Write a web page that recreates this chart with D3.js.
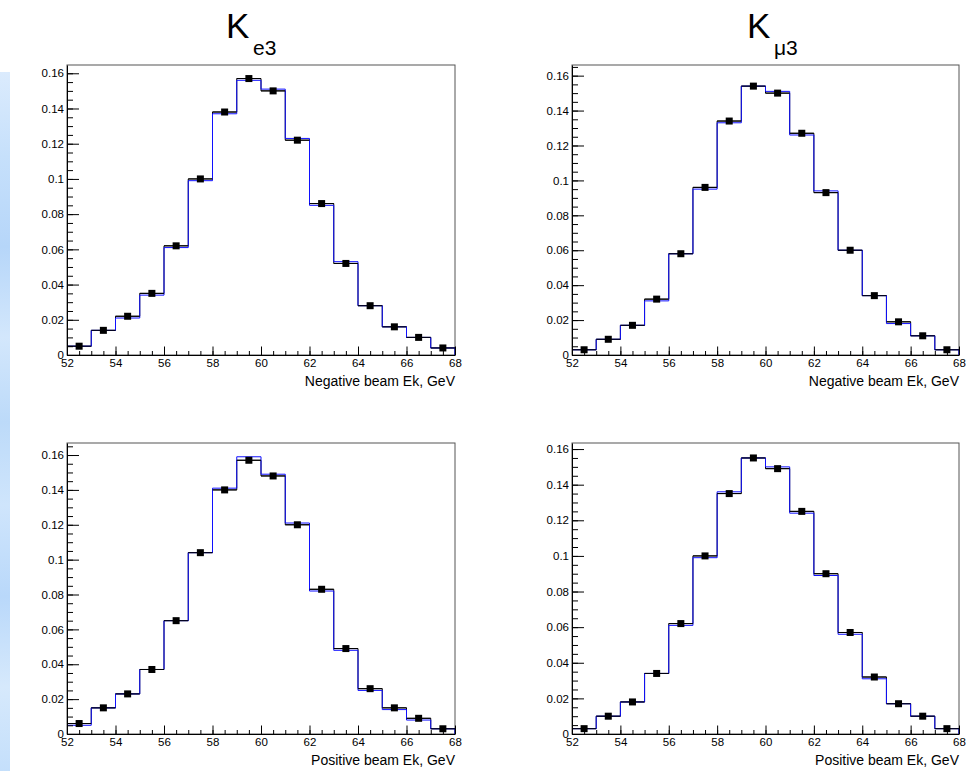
<!DOCTYPE html>
<html>
<head>
<meta charset="utf-8">
<script src="https://cdn.jsdelivr.net/npm/d3@7"></script>
<style>
  html, body { margin: 0; padding: 0; background: #fff; }
  svg { display: block; font-family: "Liberation Sans", Arial, Helvetica, sans-serif; }
</style>
</head>
<body>
<svg id="chart" width="970" height="771"></svg>
<script>
// Kaon beam energy spectra, 1 GeV bins from 52 to 68 GeV (normalised to unit area)
const binEdges = d3.range(52, 69, 1);
const binCenters = d3.range(52.5, 68, 1);

// Ke3, negative beam
const keNegData = [0.005, 0.014, 0.022, 0.035, 0.062, 0.100, 0.138, 0.157, 0.150, 0.122, 0.086, 0.052, 0.028, 0.016, 0.010, 0.004];
const keNegMC   = [0.005, 0.014, 0.021, 0.034, 0.061, 0.099, 0.137, 0.156, 0.151, 0.123, 0.085, 0.053, 0.028, 0.016, 0.010, 0.004];
// Kmu3, negative beam
const muNegData = [0.003, 0.009, 0.017, 0.032, 0.058, 0.096, 0.134, 0.154, 0.150, 0.127, 0.093, 0.060, 0.034, 0.019, 0.011, 0.003];
const muNegMC   = [0.003, 0.009, 0.017, 0.031, 0.058, 0.095, 0.133, 0.154, 0.151, 0.126, 0.094, 0.060, 0.034, 0.018, 0.011, 0.003];
// Ke3, positive beam
const kePosData = [0.006, 0.015, 0.023, 0.037, 0.065, 0.104, 0.140, 0.157, 0.148, 0.120, 0.083, 0.049, 0.026, 0.015, 0.009, 0.003];
const kePosMC   = [0.005, 0.015, 0.023, 0.037, 0.065, 0.104, 0.141, 0.159, 0.149, 0.121, 0.082, 0.048, 0.025, 0.014, 0.008, 0.003];
// Kmu3, positive beam
const muPosData = [0.003, 0.010, 0.018, 0.034, 0.062, 0.100, 0.135, 0.155, 0.149, 0.125, 0.090, 0.057, 0.032, 0.017, 0.010, 0.003];
const muPosMC   = [0.003, 0.010, 0.018, 0.034, 0.061, 0.099, 0.136, 0.155, 0.150, 0.124, 0.089, 0.056, 0.031, 0.017, 0.010, 0.003];

// Axis ticks
const xMajorTicks = [52, 54, 56, 58, 60, 62, 64, 66, 68];
const yMajorTicks = [0, 0.02, 0.04, 0.06, 0.08, 0.1, 0.12, 0.14, 0.16];
const xAxisTitles = ["Negative beam Ek, GeV", "Positive beam Ek, GeV"];

// Pad layout
const pads = [
  { data: keNegData, mc: keNegMC, left: 67,  top: 65,  width: 388, height: 290, yMax: 0.1647, title: xAxisTitles[0] },
  { data: muNegData, mc: muNegMC, left: 572, top: 65,  width: 387, height: 290, yMax: 0.1661, title: xAxisTitles[0] },
  { data: kePosData, mc: kePosMC, left: 67,  top: 443, width: 388, height: 291, yMax: 0.1669, title: xAxisTitles[1] },
  { data: muPosData, mc: muPosMC, left: 572, top: 443, width: 387, height: 291, yMax: 0.1634, title: xAxisTitles[1] }
];

const svg = d3.select("#chart");

// Canvas-side decoration strip
const defs = svg.append("defs");
const grad = defs.append("linearGradient").attr("id", "strip").attr("x1", 0).attr("y1", 0).attr("x2", 0).attr("y2", 1);
[["0%", "#dbebfd"], ["12%", "#c6e0fb"], ["25%", "#b6d6f9"], ["38%", "#d3e7fc"], ["50%", "#bcdaf9"],
 ["62%", "#cfe5fc"], ["75%", "#b9d8fa"], ["88%", "#d6e9fc"], ["100%", "#c4dffb"]]
  .forEach(([o, c]) => grad.append("stop").attr("offset", o).attr("stop-color", c));
svg.append("rect").attr("x", 0).attr("y", 72).attr("width", 10).attr("height", 699).attr("fill", "url(#strip)");

const fmt = d => d === 0 ? "0" : String(+d.toFixed(2));

pads.forEach(p => {
  const x = d3.scaleLinear().domain([52, 68]).range([p.left, p.left + p.width]);
  const y = d3.scaleLinear().domain([0, p.yMax]).range([p.top + p.height, p.top]);
  const g = svg.append("g");

  // frame
  g.append("rect")
    .attr("x", p.left).attr("y", p.top).attr("width", p.width).attr("height", p.height)
    .attr("fill", "none").attr("stroke", "#555").attr("stroke-width", 1);

  // step histograms
  const stepPts = vals => [[52, 0]].concat(vals.map((v, i) => [binEdges[i], v]), [[68, vals[vals.length - 1]], [68, 0]]);
  const step = d3.line().x(d => x(d[0])).y(d => y(d[1])).curve(d3.curveStepAfter);
  const clip = "clip" + p.left + "_" + p.top;
  defs.append("clipPath").attr("id", clip).append("rect")
    .attr("x", p.left).attr("y", p.top).attr("width", p.width).attr("height", p.height);
  const hg = g.append("g").attr("clip-path", `url(#${clip})`);
  hg.append("path").attr("d", step(stepPts(p.data))).attr("fill", "none").attr("stroke", "#000").attr("stroke-width", 1);
  hg.append("path").attr("d", step(stepPts(p.mc))).attr("fill", "none").attr("stroke", "#1010ff").attr("stroke-width", 1);

  // data: horizontal bin-width bars and square markers
  hg.selectAll("line.bar").data(p.data).join("line").attr("class", "bar")
    .attr("x1", (d, i) => x(binEdges[i])).attr("x2", (d, i) => x(binEdges[i + 1]))
    .attr("y1", d => y(d)).attr("y2", d => y(d))
    .attr("stroke", "#000").attr("stroke-width", 1);
  g.selectAll("rect.pt").data(p.data).join("rect").attr("class", "pt")
    .attr("x", (d, i) => x(binCenters[i]) - 3.5).attr("y", d => y(d) - 3.5)
    .attr("width", 7).attr("height", 7).attr("fill", "#000");

  // y axis (ticks inside the frame)
  const yMinor = d3.range(0, p.yMax + 1e-9, 0.005);
  g.append("g").attr("transform", `translate(${p.left},0)`)
    .call(d3.axisLeft(y).tickValues(yMinor).tickSize(-6).tickSizeOuter(0).tickFormat(""))
    .call(a => a.select(".domain").remove());
  g.append("g").attr("transform", `translate(${p.left},0)`)
    .call(d3.axisLeft(y).tickValues(yMajorTicks).tickSize(-12).tickSizeOuter(0).tickPadding(3).tickFormat(fmt))
    .call(a => a.selectAll("text").attr("font-size", "11.5px").attr("fill", "#000"))
    .call(a => a.select(".domain").attr("stroke", "#000"));

  // x axis (ticks inside the frame)
  const xMinor = d3.range(52, 68.01, 0.5);
  const xb = p.top + p.height;
  g.append("g").attr("transform", `translate(0,${xb})`)
    .call(d3.axisBottom(x).tickValues(xMinor).tickSize(-4).tickSizeOuter(0).tickFormat(""))
    .call(a => a.select(".domain").remove());
  g.append("g").attr("transform", `translate(0,${xb})`)
    .call(d3.axisBottom(x).tickValues(xMajorTicks).tickSize(-8.5).tickSizeOuter(0).tickPadding(4).tickFormat(d3.format("d")))
    .call(a => a.selectAll("text").attr("font-size", "11.5px").attr("fill", "#000"))
    .call(a => a.select(".domain").attr("stroke", "#000"));

  // x axis title, right-aligned
  g.append("text").attr("x", p.left + p.width).attr("y", xb + 31)
    .attr("text-anchor", "end").attr("font-size", "14px").attr("fill", "#000").text(p.title);
});

// Column titles
const titles = [{ x: 226, sub: "e3" }, { x: 747, sub: "μ3" }];
titles.forEach(t => {
  svg.append("text").attr("x", t.x).attr("y", 38).attr("font-size", "35px").attr("fill", "#000").text("K");
  svg.append("text").attr("x", t.x + 27).attr("y", 55).attr("font-size", "21px").attr("fill", "#000").text(t.sub);
});
</script>
</body>
</html>
